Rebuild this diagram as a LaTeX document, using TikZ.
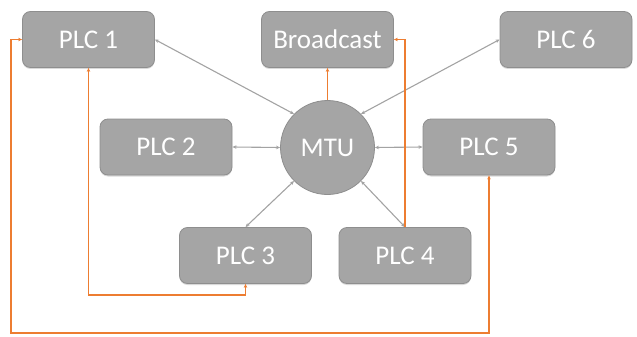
\documentclass[tikz,border=0pt]{standalone}
\usepackage{fontspec}
\setmainfont{Carlito}
\usetikzlibrary{arrows.meta,shadows}
\definecolor{boxfill}{HTML}{A5A5A5}
\definecolor{boxline}{HTML}{8E8E8E}
\definecolor{linkgray}{HTML}{A3A3A3}
\definecolor{orangelink}{HTML}{ED7D31}
\tikzset{
  plcbox/.style={draw=boxline, line width=0.8pt, fill=boxfill, rounded corners=8pt,
    minimum width=132pt, minimum height=56pt, inner sep=0pt, text=white,
    font=\fontsize{27}{30}\selectfont,
    drop shadow={opacity=0.25, shadow xshift=0pt, shadow yshift=-1.5pt, fill=black!60}},
  mtucircle/.style={circle, draw=boxline, line width=0.8pt, fill=boxfill, minimum size=94pt,
    inner sep=0pt, text=white, font=\fontsize{27}{30}\selectfont},
  graylink/.style={draw=linkgray, line width=1.1pt, {Stealth[length=4pt,width=3.5pt]}-{Stealth[length=4pt,width=3.5pt]}},
  orangelinkb/.style={draw=orangelink, line width=1.5pt, {Stealth[length=4pt,width=3.5pt]}-{Stealth[length=4pt,width=3.5pt]}},
  orangelinko/.style={draw=orangelink, line width=1.5pt, -{Stealth[length=4pt,width=3.5pt]}}
}
\begin{document}
\begin{tikzpicture}[x=1pt,y=-1pt]
\useasboundingbox (0,0) rectangle (637,337);
\node[plcbox] (plc1) at (88.5,39.5) {PLC 1};
\node[plcbox] (bc) at (327.5,39.5) {Broadcast};
\node[plcbox] (plc6) at (566,39.5) {PLC 6};
\node[plcbox] (plc2) at (166,147) {PLC 2};
\node[plcbox] (plc5) at (489,147) {PLC 5};
\node[plcbox] (plc3) at (245.5,255.5) {PLC 3};
\node[plcbox] (plc4) at (405,255.5) {PLC 4};
\node[mtucircle] (mtu) at (327.5,147.5) {MTU};

\coordinate (low1) at (0,295);
\coordinate (low2) at (0,333);
\coordinate (leftx) at (11,0);

\draw[graylink] (plc1.east) -- (mtu.135);
\draw[graylink] (plc6.west) -- (mtu.45);
\draw[graylink] (plc2.east) -- (mtu.west);
\draw[graylink] (mtu.east) -- (plc5.west);
\draw[graylink] (mtu.-135) -- (plc3.north);
\draw[graylink] (mtu.-45) -- (plc4.north);

\draw[orangelinko] (mtu.north) -- (bc.south);
\draw[orangelinko] (plc4.north) |- (bc.east);
\draw[orangelinkb] (plc1.south) -- (plc1.south |- low1) -| (plc3.south);
\draw[orangelinkb] (plc1.west) -- (leftx |- plc1.west) -- (leftx |- low2) -| (plc5.south);
\end{tikzpicture}
\end{document}
